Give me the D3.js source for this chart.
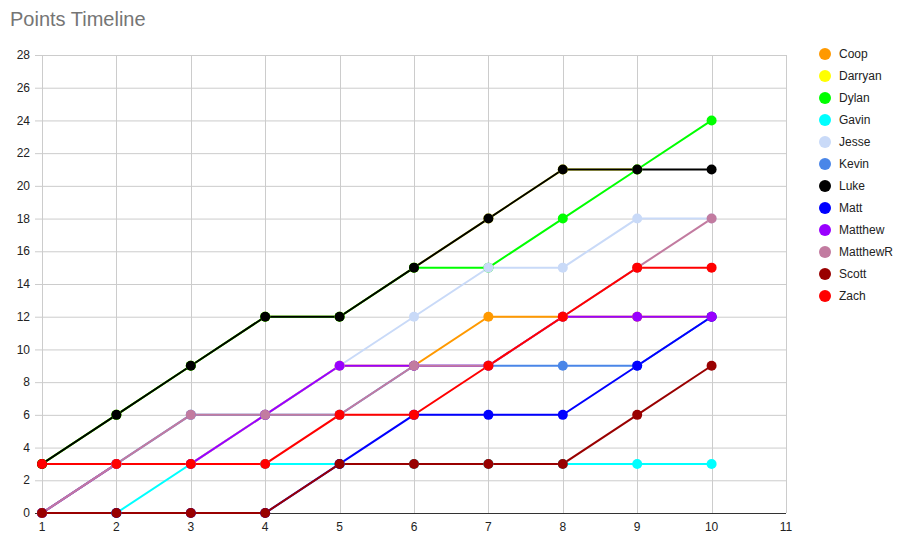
<!DOCTYPE html>
<html>
<head>
<meta charset="utf-8">
<style>
body { margin: 0; background: #fff; }
svg { font-family: "Liberation Sans", Arial, sans-serif; }
.grid line { stroke: #cccccc; stroke-width: 1; }
.axis text { font-size: 12px; fill: #222; }
</style>
</head>
<body>
<svg width="898" height="541"></svg>
<script src="https://cdn.jsdelivr.net/npm/d3@7"></script>
<script>
// game numbers along the bottom
var games = [1, 2, 3, 4, 5, 6, 7, 8, 9, 10];
var names = ["Coop", "Darryan", "Dylan", "Gavin", "Jesse", "Kevin", "Luke", "Matt", "Matthew", "MatthewR", "Scott", "Zach"];
var colors = ["#ff9900", "#ffff00", "#00ff00", "#00ffff", "#c9daf8", "#4a86e8", "#000000", "#0000ff", "#9900ff", "#c27ba0", "#990000", "#ff0000"];

var coop     = [0, 3, 3, 6, 9, 9, 12, 12, 12, 12];
var darryan  = [3, 6, 9, 12, 12, 15, 18, 21, 21, null];
var dylan    = [3, 6, 9, 12, 12, 15, 15, 18, 21, 24];
var gavin    = [0, 0, 3, 3, 3, 3, 3, 3, 3, 3];
var jesse    = [0, 3, 3, 6, 9, 12, 15, 15, 18, 18];
var kevin    = [0, 3, 6, 6, 6, 9, 9, 9, 9, 12];
var luke     = [3, 6, 9, 12, 12, 15, 18, 21, 21, 21];
var matt     = [0, 0, 0, 0, 3, 6, 6, 6, 9, 12];
var matthew  = [0, 3, 3, 6, 9, 9, 9, 12, 12, 12];
var matthewR = [0, 3, 6, 6, 6, 9, 9, 12, 15, 18];
var scott    = [0, 0, 0, 0, 3, 3, 3, 3, 6, 9];
var zach     = [3, 3, 3, 3, 6, 6, 9, 12, 15, 15];

var xTicks = [1, 2, 3, 4, 5, 6, 7, 8, 9, 10, 11];
var yTicks = [0, 2, 4, 6, 8, 10, 12, 14, 16, 18, 20, 22, 24, 26, 28];

var series = [coop, darryan, dylan, gavin, jesse, kevin, luke, matt, matthew, matthewR, scott, zach]
  .map(function(vals, i) {
    return {
      name: names[i],
      color: colors[i],
      points: vals.map(function(v, j) { return {x: games[j], y: v}; })
    };
  });

var svg = d3.select("svg");

var x = d3.scaleLinear().domain([1, 11]).range([42, 786]);
var y = d3.scaleLinear().domain([0, 28]).range([513, 55]);

svg.append("text")
    .attr("x", 10)
    .attr("y", 26)
    .attr("font-size", 20)
    .attr("fill", "#757575")
    .text("Points Timeline");

// grid
var grid = svg.append("g").attr("class", "grid");
grid.selectAll(".h")
  .data(yTicks)
  .enter().append("line")
    .attr("x1", 35)
    .attr("x2", 786)
    .attr("y1", function(d) { return y(d) + 0.5; })
    .attr("y2", function(d) { return y(d) + 0.5; });
grid.selectAll(".v")
  .data(xTicks)
  .enter().append("line")
    .attr("x1", function(d) { return Math.round(x(d)) + 0.5; })
    .attr("x2", function(d) { return Math.round(x(d)) + 0.5; })
    .attr("y1", y(28))
    .attr("y2", y(0));

// axes labels
var yAxis = svg.append("g").attr("class", "axis");
yAxis.selectAll("text")
  .data(yTicks)
  .enter().append("text")
    .attr("x", 30)
    .attr("y", function(d) { return y(d); })
    .attr("dy", "0.35em")
    .attr("text-anchor", "end")
    .text(function(d) { return d; });

var xAxis = svg.append("g").attr("class", "axis");
xAxis.selectAll("text")
  .data(xTicks)
  .enter().append("text")
    .attr("x", function(d) { return x(d); })
    .attr("y", 531)
    .attr("text-anchor", "middle")
    .text(function(d) { return d; });

svg.append("line")
    .attr("x1", 35)
    .attr("x2", 786)
    .attr("y1", y(0) + 0.5)
    .attr("y2", y(0) + 0.5)
    .attr("stroke", "#333")
    .attr("stroke-width", 1);

var line = d3.line()
    .defined(function(d) { return d.y != null; })
    .x(function(d) { return x(d.x); })
    .y(function(d) { return y(d.y); });

svg.append("g").selectAll("path")
  .data(series)
  .enter().append("path")
    .attr("d", function(d) { return line(d.points); })
    .attr("fill", "none")
    .attr("stroke", function(d) { return d.color; })
    .attr("stroke-width", 2);

svg.append("g").selectAll("g")
  .data(series)
  .enter().append("g")
    .attr("fill", function(d) { return d.color; })
  .selectAll("circle")
  .data(function(d) { return d.points.filter(function(p) { return p.y != null; }); })
  .enter().append("circle")
    .attr("cx", function(d) { return x(d.x); })
    .attr("cy", function(d) { return y(d.y); })
    .attr("r", 5);

// legend
var legend = svg.selectAll(".legend")
  .data(series)
  .enter().append("g")
    .attr("class", "legend")
    .attr("transform", function(d, i) { return "translate(825," + (54 + i * 22) + ")"; });
legend.append("circle")
    .attr("r", 6)
    .attr("fill", function(d) { return d.color; });
legend.append("text")
    .attr("x", 14)
    .attr("dy", "0.35em")
    .attr("font-size", 12)
    .attr("fill", "#222")
    .text(function(d) { return d.name; });
</script>
</body>
</html>
